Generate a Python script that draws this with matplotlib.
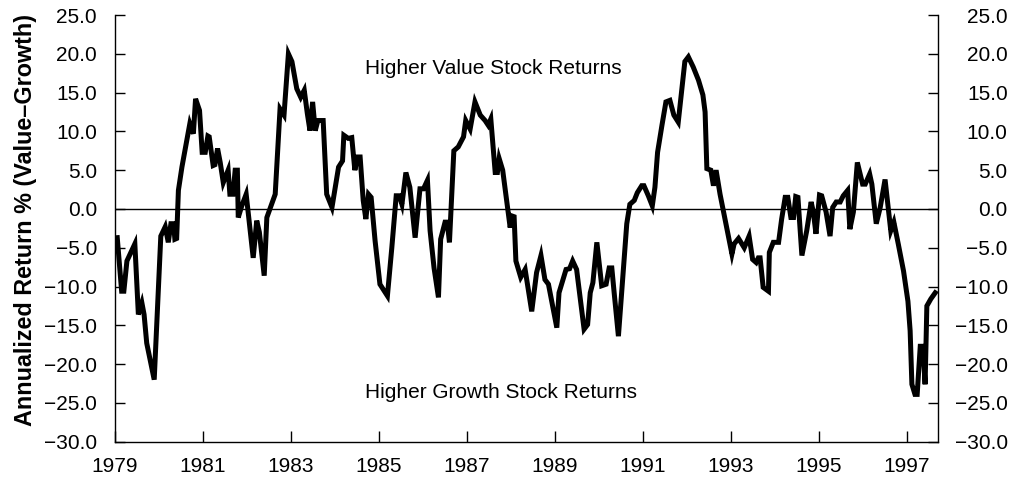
import matplotlib
matplotlib.use("Agg")
import matplotlib.pyplot as plt
import matplotlib.transforms as mtransforms
from matplotlib.ticker import FuncFormatter, MultipleLocator

plt.rcParams["font.family"] = ["Liberation Sans", "DejaVu Sans"]

# Value minus growth annualized return spread, by date (decimal years)
years = [
    1979.05, 1979.15, 1979.20, 1979.27, 1979.45, 1979.53, 1979.61, 1979.66, 1979.72, 1979.89,
    1980.04, 1980.14, 1980.21, 1980.27, 1980.33, 1980.36, 1980.40, 1980.44, 1980.52, 1980.70,
    1980.78, 1980.83, 1980.92, 1980.98, 1981.05, 1981.11, 1981.14, 1981.23, 1981.27, 1981.33,
    1981.39, 1981.46, 1981.57, 1981.61, 1981.68, 1981.73, 1981.78, 1981.80, 1981.88, 1981.98,
    1982.14, 1982.22, 1982.28, 1982.39, 1982.45, 1982.64, 1982.75, 1982.84, 1982.94, 1983.02,
    1983.13, 1983.22, 1983.30, 1983.37, 1983.43, 1983.49, 1983.55, 1983.61, 1983.73, 1983.81,
    1983.93, 1984.08, 1984.17, 1984.20, 1984.30, 1984.38, 1984.45, 1984.51, 1984.57, 1984.64,
    1984.70, 1984.76, 1984.82, 1984.91, 1985.02, 1985.19, 1985.29, 1985.39, 1985.46, 1985.52,
    1985.61, 1985.70, 1985.82, 1985.93, 1986.01, 1986.10, 1986.16, 1986.25, 1986.35, 1986.40,
    1986.50, 1986.55, 1986.60, 1986.70, 1986.80, 1986.92, 1986.97, 1987.07, 1987.18, 1987.30,
    1987.41, 1987.48, 1987.54, 1987.64, 1987.69, 1987.73, 1987.81, 1987.90, 1987.98, 1988.02,
    1988.07, 1988.11, 1988.22, 1988.32, 1988.47, 1988.58, 1988.68, 1988.77, 1988.85, 1989.04,
    1989.09, 1989.25, 1989.33, 1989.40, 1989.49, 1989.66, 1989.74, 1989.80, 1989.86, 1989.95,
    1990.06, 1990.16, 1990.23, 1990.29, 1990.34, 1990.44, 1990.54, 1990.63, 1990.70, 1990.80,
    1990.87, 1990.97, 1991.02, 1991.12, 1991.21, 1991.27, 1991.33, 1991.43, 1991.52, 1991.61,
    1991.70, 1991.80, 1991.95, 1992.03, 1992.14, 1992.26, 1992.36, 1992.41, 1992.45, 1992.54,
    1992.60, 1992.66, 1992.75, 1992.90, 1993.02, 1993.07, 1993.17, 1993.30, 1993.41, 1993.49,
    1993.57, 1993.62, 1993.66, 1993.73, 1993.85, 1993.87, 1993.96, 1994.08, 1994.15, 1994.23,
    1994.29, 1994.36, 1994.42, 1994.47, 1994.52, 1994.61, 1994.72, 1994.82, 1994.87, 1994.93,
    1995.01, 1995.06, 1995.16, 1995.25, 1995.31, 1995.39, 1995.48, 1995.55, 1995.65, 1995.70,
    1995.78, 1995.87, 1995.99, 1996.05, 1996.15, 1996.20, 1996.30, 1996.39, 1996.50, 1996.63,
    1996.70, 1996.80, 1996.92, 1997.02, 1997.07, 1997.11, 1997.18, 1997.23, 1997.30, 1997.36,
    1997.41, 1997.45, 1997.54, 1997.64,
]
spread = [
    -3.7, -10.6, -10.6, -6.7, -4.5, -13.6, -12.1, -13.6, -17.3, -22.0,
    -3.5, -2.3, -4.3, -1.9, -1.9, -3.9, -3.8, 2.4, 5.4, 11.0,
    9.7, 14.2, 12.7, 7.3, 7.3, 9.4, 9.3, 5.6, 5.7, 7.8,
    6.0, 3.4, 5.0, 1.9, 1.9, 5.0, 5.0, -1.1, 0.4, 1.9,
    -6.3, -1.5, -3.0, -8.6, -1.1, 1.9, 12.9, 12.1, 20.0, 19.0,
    15.5, 14.4, 15.3, 12.3, 10.1, 13.8, 10.1, 11.4, 11.4, 1.9,
    0.2, 5.4, 6.2, 9.5, 9.1, 9.2, 5.0, 6.7, 6.7, 1.1,
    -1.3, 1.9, 1.5, -4.1, -9.7, -11.2, -5.0, 1.7, 1.7, 0.6,
    4.7, 2.8, -3.7, 2.6, 2.6, 3.7, -2.8, -7.6, -11.4, -3.9,
    -1.7, -1.7, -4.3, 7.5, 8.0, 9.3, 11.4, 10.3, 13.8, 12.1,
    11.4, 10.8, 11.6, 4.7, 4.7, 6.5, 5.0, 1.1, -2.4, -0.9,
    -1.0, -6.7, -8.8, -7.8, -13.2, -8.2, -6.0, -9.1, -9.7, -15.3,
    -10.8, -7.8, -7.7, -6.7, -7.8, -15.5, -14.9, -10.8, -9.5, -4.3,
    -9.9, -9.7, -7.6, -7.6, -10.6, -16.4, -8.8, -1.9, 0.6, 1.1,
    2.1, 3.0, 3.0, 1.7, 0.4, 2.8, 7.3, 10.8, 13.8, 14.0,
    12.1, 11.2, 19.0, 19.6, 18.3, 16.6, 14.7, 12.5, 5.2, 5.0,
    3.0, 5.0, 1.9, -2.4, -5.8, -4.5, -3.8, -5.0, -3.5, -6.5,
    -6.9, -6.3, -6.3, -10.1, -10.6, -5.6, -4.3, -4.3, -1.3, 1.5,
    1.5, -1.1, -1.1, 1.6, 1.5, -6.0, -2.8, 0.9, -0.4, -3.2,
    1.8, 1.7, -0.4, -3.5, 0.2, 0.9, 0.9, 1.7, 2.4, -2.6,
    -0.4, 6.0, 3.2, 3.2, 4.5, 3.2, -1.9, 0.2, 3.8, -2.8,
    -1.7, -4.5, -8.0, -11.9, -15.7, -22.6, -23.9, -23.9, -17.7, -17.7,
    -22.6, -12.5, -11.6, -10.8,
]

x_ticks = list(range(1979, 1998, 2))
y_min, y_max, y_step = -30, 25, 5
annotations = [
    ("Higher Value Stock Returns", 1984.68, 17.4),
    ("Higher Growth Stock Returns", 1984.68, -24.4),
]

fig = plt.figure(figsize=(10.19, 4.78), dpi=100)
ax = fig.add_axes([0.1129, 0.0759, 0.8079, 0.8927])

ax.axhline(0, color="black", lw=1.0, zorder=1)
ax.plot(years, spread, color="black", lw=3.6, solid_joinstyle="miter", zorder=2)

ax.set_xlim(1979, 1997.71)
ax.set_ylim(y_min, y_max)
ax.set_xticks(x_ticks)
ax.set_xticklabels([str(y) for y in x_ticks])
ax.yaxis.set_major_locator(MultipleLocator(y_step))


def fmt(v, _pos):
    s = f"{v:.1f}"
    if s == "-0.0":
        s = "0.0"
    return s.replace("-", "\u2212")


ax.yaxis.set_major_formatter(FuncFormatter(fmt))

ax.spines["top"].set_visible(False)
for side in ("left", "right", "bottom"):
    ax.spines[side].set_linewidth(1.0)
    ax.spines[side].set_color("black")

ax.tick_params(axis="x", direction="in", length=8, width=1.0, pad=11, labelsize=15)
ax.tick_params(axis="y", direction="in", length=7, width=1.0, labelsize=15,
               left=True, right=True, labelleft=True, labelright=True, pad=13)

# right-hand labels are right-aligned, ending near the figure edge
offset = mtransforms.ScaledTranslation(37 / 72, 0, fig.dpi_scale_trans)
for t in ax.yaxis.get_major_ticks():
    t.label2.set_horizontalalignment("right")
    t.label2.set_transform(t.label2.get_transform() + offset)

for text, x, y in annotations:
    ax.text(x, y, text, fontsize=15, ha="left", va="baseline")

fig.text(25.5 / 1019, 1 - 220 / 478, "Annualized Return % (Value\u2013Growth)",
         rotation=90, ha="center", va="center", fontsize=16.8, fontweight="bold")

fig.savefig("out.png", dpi=100)
